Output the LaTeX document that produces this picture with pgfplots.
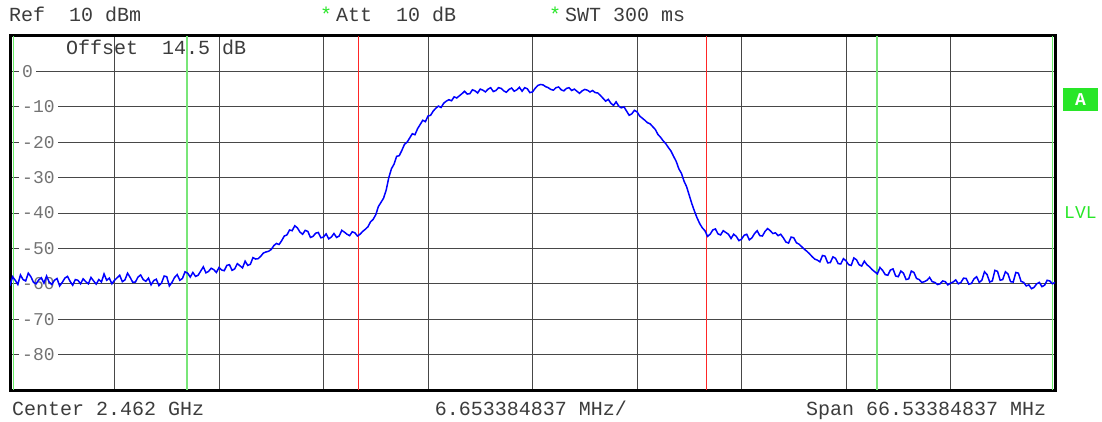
\documentclass[border=0pt]{standalone}
\usepackage{pgfplots}
\pgfplotsset{compat=1.18}
\usepackage{fontspec}
\newfontfamily\mono{Liberation Mono}
\definecolor{trace}{RGB}{0,0,255}
\definecolor{lgreen}{RGB}{120,230,120}
\definecolor{bgreen}{RGB}{40,230,40}
\definecolor{txt}{RGB}{60,60,60}
\pgfplotstableread{
x y
0.000 -60.5
0.025 -58.0
0.050 -59.0
0.075 -60.2
0.100 -57.5
0.125 -58.8
0.150 -59.2
0.175 -57.0
0.200 -58.0
0.225 -59.6
0.250 -60.0
0.275 -58.9
0.300 -58.3
0.325 -59.8
0.350 -57.8
0.375 -59.5
0.400 -60.2
0.425 -59.0
0.450 -58.5
0.475 -60.6
0.500 -59.6
0.525 -58.4
0.550 -57.9
0.575 -59.3
0.600 -60.4
0.625 -58.8
0.650 -59.0
0.675 -60.0
0.700 -58.6
0.725 -59.4
0.750 -60.0
0.775 -58.2
0.800 -59.2
0.825 -60.1
0.850 -58.8
0.875 -59.5
0.900 -57.2
0.925 -59.0
0.950 -58.4
0.975 -60.0
1.000 -59.0
1.025 -58.3
1.050 -57.6
1.075 -59.4
1.100 -58.9
1.125 -57.0
1.150 -58.2
1.175 -59.6
1.200 -59.5
1.225 -58.1
1.250 -57.5
1.275 -58.8
1.300 -59.3
1.325 -58.4
1.350 -60.3
1.375 -59.1
1.400 -58.7
1.425 -60.5
1.450 -59.8
1.475 -57.8
1.500 -58.0
1.525 -60.6
1.550 -59.6
1.575 -58.2
1.600 -57.4
1.625 -59.0
1.650 -58.5
1.675 -56.6
1.700 -57.0
1.725 -58.1
1.750 -56.8
1.775 -57.9
1.800 -57.6
1.825 -56.4
1.850 -55.2
1.875 -56.9
1.900 -56.5
1.925 -55.6
1.950 -56.0
1.975 -56.8
2.000 -55.4
2.025 -56.1
2.050 -56.3
2.075 -54.8
2.100 -54.6
2.125 -56.2
2.150 -55.8
2.175 -54.3
2.200 -54.9
2.225 -55.5
2.250 -53.6
2.275 -54.8
2.300 -54.5
2.325 -52.6
2.350 -53.0
2.375 -52.9
2.400 -52.2
2.425 -51.3
2.450 -51.0
2.475 -50.8
2.500 -50.3
2.525 -49.2
2.550 -48.6
2.575 -48.9
2.600 -47.8
2.625 -46.5
2.650 -46.2
2.675 -44.8
2.700 -45.0
2.725 -43.6
2.750 -44.2
2.775 -45.4
2.800 -46.0
2.825 -44.9
2.850 -45.2
2.875 -46.9
2.900 -46.6
2.925 -45.7
2.950 -45.5
2.975 -47.0
3.000 -46.8
3.025 -45.9
3.050 -47.3
3.075 -46.8
3.100 -45.8
3.125 -46.9
3.150 -46.5
3.175 -44.9
3.200 -45.4
3.225 -46.0
3.250 -46.4
3.275 -45.3
3.300 -45.6
3.325 -46.5
3.350 -46.0
3.375 -45.2
3.400 -44.6
3.425 -43.9
3.450 -42.5
3.475 -41.8
3.500 -40.5
3.525 -38.2
3.550 -37.0
3.575 -35.8
3.600 -33.5
3.625 -30.0
3.650 -27.5
3.675 -26.2
3.700 -24.0
3.725 -23.8
3.750 -22.3
3.775 -20.6
3.800 -20.0
3.825 -18.8
3.850 -17.6
3.875 -17.9
3.900 -16.2
3.925 -15.0
3.950 -13.8
3.975 -14.2
4.000 -12.6
4.025 -12.4
4.050 -11.2
4.075 -10.4
4.100 -9.8
4.125 -10.2
4.150 -9.0
4.175 -8.4
4.200 -8.0
4.225 -8.3
4.250 -7.2
4.275 -7.5
4.300 -6.9
4.325 -6.3
4.350 -5.6
4.375 -6.4
4.400 -6.3
4.425 -5.2
4.450 -5.5
4.475 -6.1
4.500 -5.0
4.525 -5.3
4.550 -5.8
4.575 -5.0
4.600 -4.6
4.625 -5.7
4.650 -5.4
4.675 -4.6
4.700 -4.8
4.725 -5.5
4.750 -5.9
4.775 -5.1
4.800 -4.7
4.825 -5.6
4.850 -5.2
4.875 -4.5
4.900 -5.6
4.925 -4.6
4.950 -4.9
4.975 -6.0
5.000 -5.8
5.025 -4.8
5.050 -4.0
5.075 -3.7
5.100 -3.8
5.125 -4.3
5.150 -4.6
5.175 -5.1
5.200 -5.3
5.225 -4.6
5.250 -4.4
5.275 -5.2
5.300 -5.5
5.325 -4.8
5.350 -4.6
5.375 -5.4
5.400 -5.0
5.425 -5.6
5.450 -6.2
5.475 -5.5
5.500 -5.1
5.525 -5.3
5.550 -5.8
5.575 -5.4
5.600 -6.0
5.625 -6.1
5.650 -6.8
5.675 -7.6
5.700 -8.4
5.725 -7.9
5.750 -9.0
5.775 -9.6
5.800 -8.6
5.825 -9.8
5.850 -10.3
5.875 -10.0
5.900 -11.2
5.925 -12.4
5.950 -12.0
5.975 -11.0
6.000 -11.4
6.025 -12.6
6.050 -13.2
6.075 -13.8
6.100 -14.5
6.125 -14.8
6.150 -15.6
6.175 -16.4
6.200 -17.8
6.225 -18.6
6.250 -19.6
6.275 -20.4
6.300 -21.5
6.325 -22.5
6.350 -24.0
6.375 -25.4
6.400 -27.5
6.425 -28.8
6.450 -31.0
6.475 -32.6
6.500 -35.0
6.525 -37.4
6.550 -39.5
6.575 -41.4
6.600 -43.0
6.625 -44.2
6.650 -45.0
6.675 -46.6
6.700 -46.0
6.725 -44.8
6.750 -44.5
6.775 -45.9
6.800 -46.2
6.825 -45.0
6.850 -45.5
6.875 -46.0
6.900 -47.2
6.925 -46.0
6.950 -46.6
6.975 -47.8
7.000 -47.4
7.025 -46.3
7.050 -46.0
7.075 -47.6
7.100 -47.0
7.125 -45.8
7.150 -45.0
7.175 -46.4
7.200 -46.5
7.225 -45.2
7.250 -44.4
7.275 -45.0
7.300 -45.8
7.325 -45.6
7.350 -46.4
7.375 -46.0
7.400 -47.0
7.425 -48.2
7.450 -48.5
7.475 -46.8
7.500 -47.0
7.525 -48.4
7.550 -48.8
7.575 -49.5
7.600 -50.2
7.625 -50.8
7.650 -51.5
7.675 -52.3
7.700 -53.0
7.725 -53.3
7.750 -53.8
7.775 -52.0
7.800 -52.2
7.825 -54.1
7.850 -54.0
7.875 -52.4
7.900 -52.8
7.925 -54.3
7.950 -54.4
7.975 -52.9
8.000 -53.5
8.025 -54.6
8.050 -54.8
8.075 -52.7
8.100 -53.2
8.125 -54.6
8.150 -55.0
8.175 -53.6
8.200 -54.6
8.225 -55.2
8.250 -56.0
8.275 -56.6
8.300 -57.2
8.325 -55.4
8.350 -56.2
8.375 -57.4
8.400 -57.6
8.425 -56.1
8.450 -55.8
8.475 -57.8
8.500 -58.0
8.525 -56.4
8.550 -57.0
8.575 -58.8
8.600 -58.6
8.625 -56.4
8.650 -56.8
8.675 -58.5
8.700 -58.8
8.725 -59.6
8.750 -59.4
8.775 -59.0
8.800 -58.2
8.825 -59.4
8.850 -59.6
8.875 -60.2
8.900 -60.0
8.925 -59.2
8.950 -59.4
8.975 -60.3
9.000 -59.8
9.025 -59.5
9.050 -58.9
9.075 -60.0
9.100 -59.6
9.125 -58.4
9.150 -58.5
9.175 -60.1
9.200 -59.9
9.225 -58.6
9.250 -58.0
9.275 -59.6
9.300 -59.0
9.325 -56.6
9.350 -57.4
9.375 -59.5
9.400 -59.2
9.425 -56.2
9.450 -56.5
9.475 -59.0
9.500 -58.8
9.525 -56.6
9.550 -57.2
9.575 -59.4
9.600 -59.5
9.625 -56.8
9.650 -57.0
9.675 -59.3
9.700 -59.6
9.725 -60.6
9.750 -60.3
9.775 -61.4
9.800 -61.0
9.825 -60.0
9.850 -59.6
9.875 -60.8
9.900 -60.4
9.925 -59.0
9.950 -59.2
9.975 -60.0
10.000 -59.6
}\tracedata
\begin{document}
\begin{tikzpicture}
\begin{axis}[
  set layers=standard,
  at={(10pt,31pt)}, anchor=south west,
  width=1045pt, height=354pt, scale only axis,
  xmin=0, xmax=10, ymin=-90, ymax=10,
  xtick={1,2,3,4,6,7,8,9}, xticklabels={},
  extra x ticks={5}, extra x tick labels={},
  extra x tick style={grid style={black, line width=1.8pt}},
  ytick={-80,-70,-60,-50,-30,-20,-10},
  yticklabels={-80,-70,-60,-50,-30,-20,-10},
  extra y ticks={0,-40}, extra y tick labels={0,-40},
  extra y tick style={grid style={black!20, line width=1.3pt}},
  grid=major, major grid style={black!72, line width=0.9pt},
  tick style={draw=none},
  yticklabel style={anchor=west, xshift=9pt, fill=white, inner xsep=3pt, inner ysep=1pt,
    font=\mono\fontsize{18}{18}\selectfont, text=black!55},
  axis line style={black, line width=3pt},
]
\addplot[red!85!white, line width=0.9pt] coordinates {(3.33,-90) (3.33,10)};
\addplot[red!85!white, line width=0.9pt] coordinates {(6.66,-90) (6.66,10)};
\addplot[lgreen, line width=2pt] coordinates {(1.695,-90) (1.695,10)};
\addplot[lgreen, line width=2pt] coordinates {(8.30,-90) (8.30,10)};
\addplot[bgreen!70!white, line width=1pt] coordinates {(0.038,-90) (0.038,10)};
\addplot[bgreen!70!white, line width=1pt] coordinates {(9.975,-90) (9.975,10)};
\addplot[trace, line width=1.5pt] table[x=x,y=y] {\tracedata};
\end{axis}
\begin{scope}[every node/.style={inner sep=0pt, text=txt, font=\mono\fontsize{20}{20}\selectfont}]
\node[anchor=base west] at (9pt,399pt) {Ref\ \ 10 dBm};
\node[anchor=base west, text=bgreen] at (320pt,399pt) {*};
\node[anchor=base west] at (336pt,399pt) {Att\ \ 10 dB};
\node[anchor=base west, text=bgreen] at (549pt,399pt) {*};
\node[anchor=base west] at (565pt,399pt) {SWT 300 ms};
\node[anchor=base west] at (66pt,366pt) {Offset\ \ 14.5 dB};
\node[anchor=base west] at (12pt,6pt) {Center 2.462 GHz};
\node[anchor=base] at (531pt,6pt) {6.653384837 MHz/};
\node[anchor=base west] at (806pt,6pt) {Span 66.53384837 MHz};
\node[fill=bgreen, text=white, minimum width=35pt, minimum height=23pt, font=\mono\bfseries\fontsize{18}{18}\selectfont] at (1080.5pt,321.5pt) {A};
\node[anchor=base west, text=bgreen, font=\mono\fontsize{18}{18}\selectfont] at (1064pt,203pt) {LVL};
\end{scope}
\pgfresetboundingbox
\useasboundingbox (0pt,0pt) rectangle (1102pt,421pt);
\end{tikzpicture}
\end{document}
